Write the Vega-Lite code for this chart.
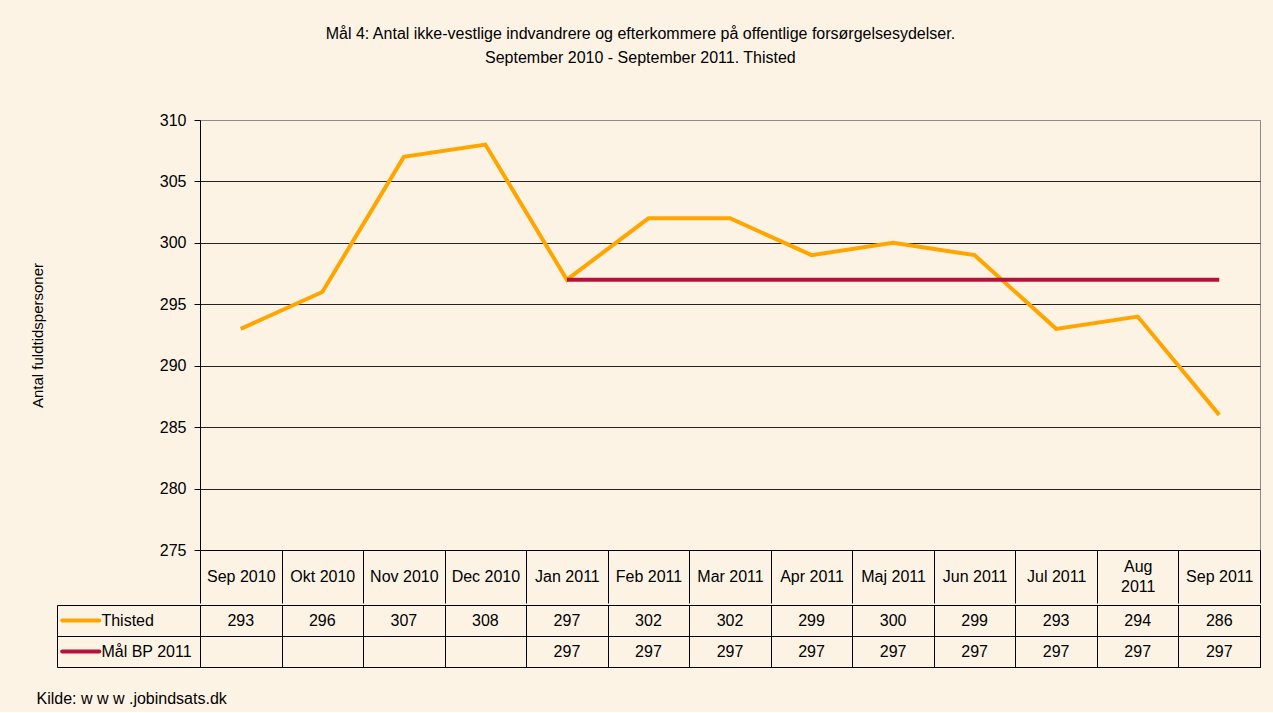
{
  "$schema": "https://vega.github.io/schema/vega-lite/v6.json",
  "background": "#FDF3E5",
  "padding": {"left": 29, "top": 25, "right": 13, "bottom": 5},
  "config": {
    "font": "Liberation Sans",
    "concat": {"spacing": 0},
    "axis": {"labelFont": "Liberation Sans", "titleFont": "Liberation Sans"}
  },
  "title": {
    "text": ["Mål 4: Antal ikke-vestlige indvandrere og efterkommere på offentlige forsørgelsesydelser.", "September 2010 - September 2011. Thisted"],
    "fontSize": 16,
    "fontWeight": "normal",
    "color": "#000000",
    "lineHeight": 24,
    "anchor": "middle",
    "offset": 46,
    "dx": -5
  },
  "datasets": {
    "main": [
      {"month": "Sep 2010", "series": "Thisted", "value": 293},
      {"month": "Okt 2010", "series": "Thisted", "value": 296},
      {"month": "Nov 2010", "series": "Thisted", "value": 307},
      {"month": "Dec 2010", "series": "Thisted", "value": 308},
      {"month": "Jan 2011", "series": "Thisted", "value": 297},
      {"month": "Feb 2011", "series": "Thisted", "value": 302},
      {"month": "Mar 2011", "series": "Thisted", "value": 302},
      {"month": "Apr 2011", "series": "Thisted", "value": 299},
      {"month": "Maj 2011", "series": "Thisted", "value": 300},
      {"month": "Jun 2011", "series": "Thisted", "value": 299},
      {"month": "Jul 2011", "series": "Thisted", "value": 293},
      {"month": "Aug 2011", "series": "Thisted", "value": 294},
      {"month": "Sep 2011", "series": "Thisted", "value": 286},
      {"month": "Jan 2011", "series": "Mål BP 2011", "value": 297},
      {"month": "Feb 2011", "series": "Mål BP 2011", "value": 297},
      {"month": "Mar 2011", "series": "Mål BP 2011", "value": 297},
      {"month": "Apr 2011", "series": "Mål BP 2011", "value": 297},
      {"month": "Maj 2011", "series": "Mål BP 2011", "value": 297},
      {"month": "Jun 2011", "series": "Mål BP 2011", "value": 297},
      {"month": "Jul 2011", "series": "Mål BP 2011", "value": 297},
      {"month": "Aug 2011", "series": "Mål BP 2011", "value": 297},
      {"month": "Sep 2011", "series": "Mål BP 2011", "value": 297}
    ],
    "series": [
      {"series": "Thisted"},
      {"series": "Mål BP 2011"}
    ]
  },
  "vconcat": [
    {
      "width": 1060,
      "height": 430,
      "view": {"stroke": "#8c8c8c", "strokeWidth": 1},
      "data": {"name": "main"},
      "mark": {"type": "line", "strokeWidth": 4},
      "encoding": {
        "x": {
          "field": "month",
          "type": "ordinal",
          "sort": ["Sep 2010", "Okt 2010", "Nov 2010", "Dec 2010", "Jan 2011", "Feb 2011", "Mar 2011", "Apr 2011", "Maj 2011", "Jun 2011", "Jul 2011", "Aug 2011", "Sep 2011"],
          "bandPosition": 0.5,
          "scale": {"type": "band", "paddingInner": 0, "paddingOuter": 0},
          "axis": {
            "title": null,
            "orient": "bottom",
            "domainColor": "#000000",
            "tickColor": "#000000",
            "tickBand": "extent",
            "tickSize": 53,
            "labelPadding": {"condition": {"test": "datum.value == 'Aug 2011'", "value": -37}, "value": -27},
            "labelBaseline": "middle",
            "labelAngle": 0,
            "labelFontSize": 16,
            "labelColor": "#000000",
            "labelLineHeight": 20,
            "labelExpr": "datum.value == 'Aug 2011' ? ['Aug', '2011'] : datum.value"
          }
        },
        "y": {
          "field": "value",
          "type": "quantitative",
          "scale": {"domain": [275, 310], "nice": false, "zero": false},
          "axis": {
            "values": [275, 280, 285, 290, 295, 300, 305, 310],
            "title": "Antal fuldtidspersoner",
            "titleFontSize": 15,
            "titleFontWeight": "normal",
            "titleColor": "#000000",
            "titlePadding": 114,
            "labelFontSize": 16,
            "labelColor": "#000000",
            "labelPadding": 8,
            "domainColor": "#000000",
            "tickColor": "#000000",
            "tickSize": 6,
            "grid": true,
            "gridColor": {"condition": {"test": "datum.value == 310", "value": "#8c8c8c"}, "value": "#222222"},
            "gridOpacity": 1
          }
        },
        "color": {
          "field": "series",
          "type": "nominal",
          "scale": {"domain": ["Thisted", "Mål BP 2011"], "range": ["#FFA500", "#B4123B"]},
          "legend": null
        }
      }
    },
    {
      "width": 1060,
      "height": 62,
      "view": {"stroke": "#000000", "strokeWidth": 1},
      "title": {
        "text": "Kilde: w w w .jobindsats.dk",
        "orient": "bottom",
        "anchor": "start",
        "frame": "bounds",
        "fontSize": 16,
        "fontWeight": "normal",
        "color": "#000000",
        "offset": 23,
        "dx": -20
      },
      "layer": [
        {
          "data": {"name": "main"},
          "mark": {"type": "text", "fontSize": 16, "color": "#000000"},
          "encoding": {
            "x": {
              "field": "month",
              "type": "ordinal",
              "sort": ["Sep 2010", "Okt 2010", "Nov 2010", "Dec 2010", "Jan 2011", "Feb 2011", "Mar 2011", "Apr 2011", "Maj 2011", "Jun 2011", "Jul 2011", "Aug 2011", "Sep 2011"],
              "bandPosition": 0.5,
              "scale": {"type": "band", "paddingInner": 0, "paddingOuter": 0},
              "axis": {"title": null, "labels": false, "ticks": false, "domain": false, "grid": true, "gridColor": "#000000", "gridOpacity": 1, "tickBand": "extent"}
            },
            "y": {
              "field": "series",
              "type": "nominal",
              "sort": ["Thisted", "Mål BP 2011"],
              "bandPosition": 0.5,
              "scale": {"type": "band", "paddingInner": 0, "paddingOuter": 0},
              "axis": {"title": null, "orient": "left", "offset": 143, "labels": false, "domain": true, "domainColor": "#000000", "ticks": true, "tickSize": -143, "tickColor": "#000000", "tickBand": "extent", "grid": true, "gridColor": "#000000", "gridOpacity": 1}
            },
            "text": {"field": "value", "type": "quantitative"}
          }
        },
        {
          "data": {"name": "series"},
          "mark": {"type": "rule", "strokeWidth": 4, "strokeCap": "round"},
          "encoding": {
            "x": {"datum": -0.13, "type": "quantitative", "scale": {"domain": [0, 1]}, "axis": null},
            "x2": {"datum": -0.095},
            "y": {"field": "series", "type": "nominal", "sort": ["Thisted", "Mål BP 2011"], "bandPosition": 0.5},
            "color": {"field": "series", "type": "nominal", "legend": null}
          }
        },
        {
          "data": {"name": "series"},
          "mark": {"type": "text", "align": "left", "baseline": "middle", "fontSize": 16, "color": "#000000"},
          "encoding": {
            "x": {"datum": -0.093, "type": "quantitative", "scale": {"domain": [0, 1]}, "axis": null},
            "y": {"field": "series", "type": "nominal", "sort": ["Thisted", "Mål BP 2011"], "bandPosition": 0.5},
            "text": {"field": "series", "type": "nominal"}
          }
        }
      ],
      "resolve": {"scale": {"x": "independent"}, "axis": {"x": "independent"}}
    }
  ]
}
